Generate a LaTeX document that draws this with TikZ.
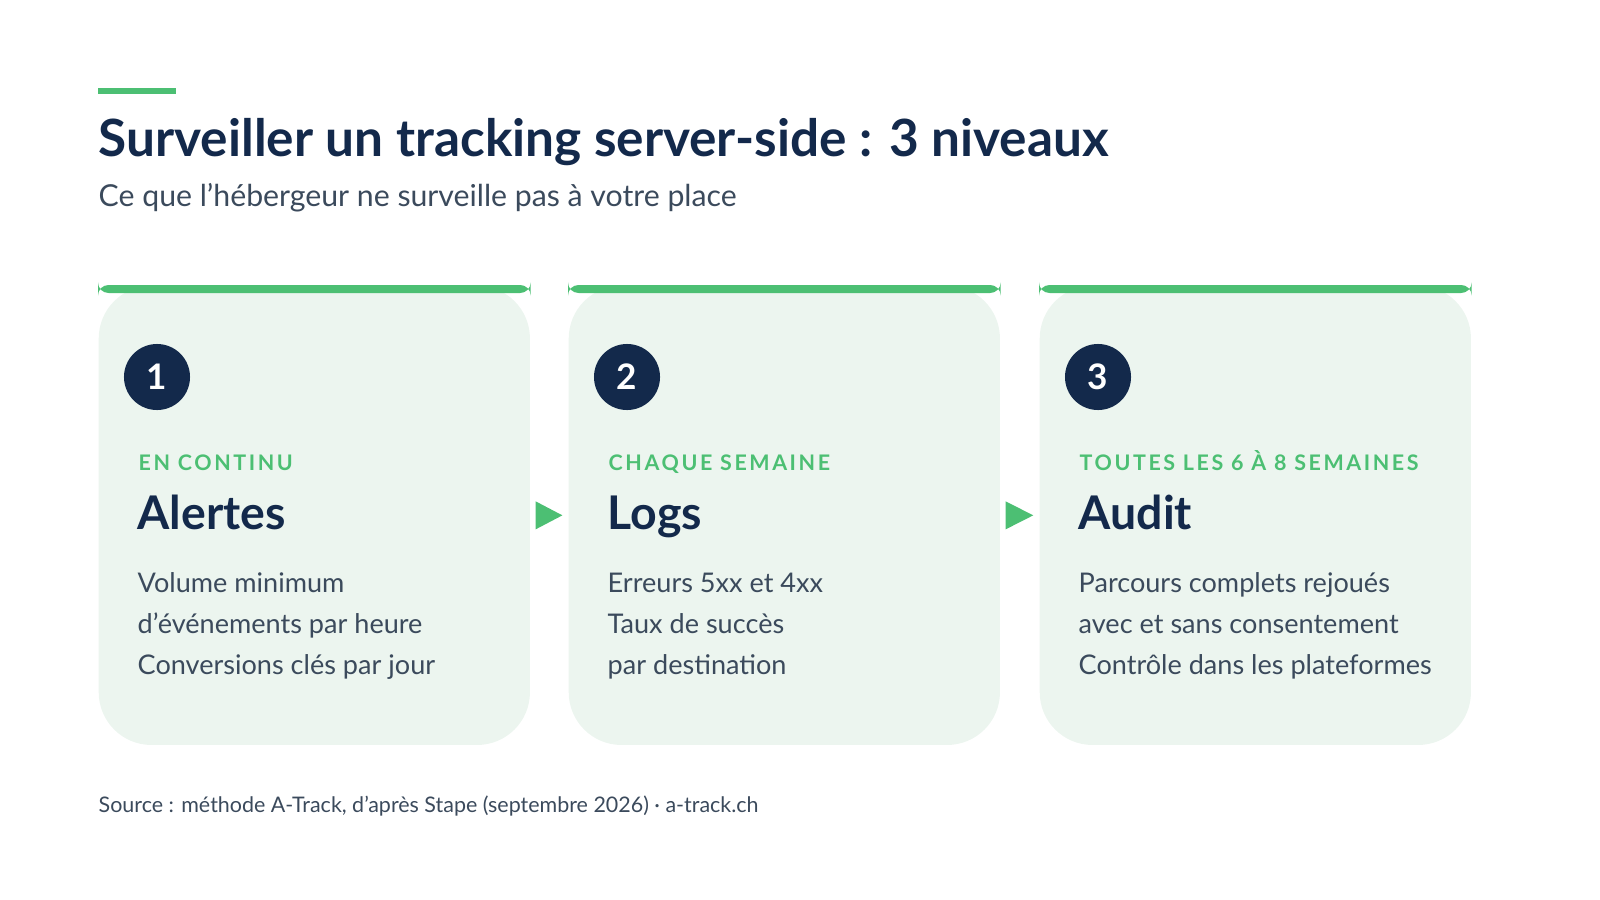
\documentclass[tikz,border=0pt]{standalone}
\usepackage{fontspec}
\setmainfont{Lato}
\newfontfamily\capsfont{Lato}[LetterSpace=12]
\usetikzlibrary{calc,positioning}
\definecolor{navy}{HTML}{13294B}
\definecolor{leaf}{HTML}{4CBF73}
\definecolor{mint}{HTML}{ECF5EF}
\definecolor{ink}{HTML}{3B4A5C}
\def\drawbar{\fill[color=leaf, rounded corners=3]}
\def\stepnode{\node[circle,fill=navy,text=white,minimum size=0.66cm,inner sep=0pt,font=\bfseries\fontsize{10}{10}\selectfont]}

\begin{document}
\begin{tikzpicture}[x=0.01cm,y=-0.01cm,
  card/.style={draw=none,fill=mint,rounded corners=15,minimum width=4.31cm,minimum height=4.59cm,anchor=north west,inner sep=0pt},
  when/.style={anchor=base west,inner sep=0pt,text=leaf,font=\capsfont\bfseries\fontsize{6.1}{7}\selectfont},
  head/.style={anchor=base west,inner sep=0pt,text=navy,font=\bfseries\fontsize{13.2}{15}\selectfont},
  body/.style={anchor=north west,inner sep=0pt,text=ink,align=left,font=\fontsize{7.7}{11.7}\selectfont}]
\useasboundingbox (0,0) rectangle (1600,900);

% ---------- title block
\fill[leaf] (98,88) rectangle (176,94);
\node[anchor=base west,inner sep=0pt,text=navy,font=\bfseries\fontsize{14.6}{16}\selectfont] (title) at (98,156) {Surveiller un tracking server-side : 3 niveaux};
\node[anchor=base west,inner sep=0pt,text=ink,font=\fontsize{8.6}{10}\selectfont] (sub) at (98,206) {Ce que l'hébergeur ne surveille pas à votre place};

% ---------- the three cards
\foreach \i/\x/\lab/\name/\txt in {
  1/98/{EN CONTINU}/Alertes/{Volume minimum\\d'événements par heure\\Conversions clés par jour},
  2/568/{CHAQUE SEMAINE}/Logs/{Erreurs 5xx et 4xx\\Taux de succès\\par destination},
  3/1039/{TOUTES LES 6 À 8 SEMAINES}/Audit/{Parcours complets rejoués\\avec et sans consentement\\Contrôle dans les plateformes}}{
  \node[card] (c\i) at (\x,285) {};
  \drawbar (c\i.north west) rectangle ($ (c\i.north east) + (0,8) $);
  \stepnode (n\i) at ($ (c\i.north west) + (59,92) $) {\i};
  \node[when] (w\i) at ($ (c\i.north west) + (40,185) $) {\lab};
  \node[head] (h\i) at ($ (c\i.north west) + (39,244) $) {\name};
  \node[body] (b\i) at ($ (c\i.north west) + (39,287) $) {\txt};
}

% ---------- arrows between cards
\foreach \a/\b in {1/2,2/3}{
  \coordinate (tip\a) at ($ (c\a.east)!0.85!(c\b.west) $);
  \fill[leaf] ($ (c\a.east) + (5,-14) $) -- ($ (c\a.east) + (5,14) $) -- (tip\a) -- cycle;
}

% ---------- footer
\node[anchor=base west,inner sep=0pt,text=ink,font=\fontsize{6.1}{7}\selectfont] (src) at (98,812) {Source : méthode A-Track, d'après Stape (septembre 2026) · a-track.ch};
\end{tikzpicture}
\end{document}
